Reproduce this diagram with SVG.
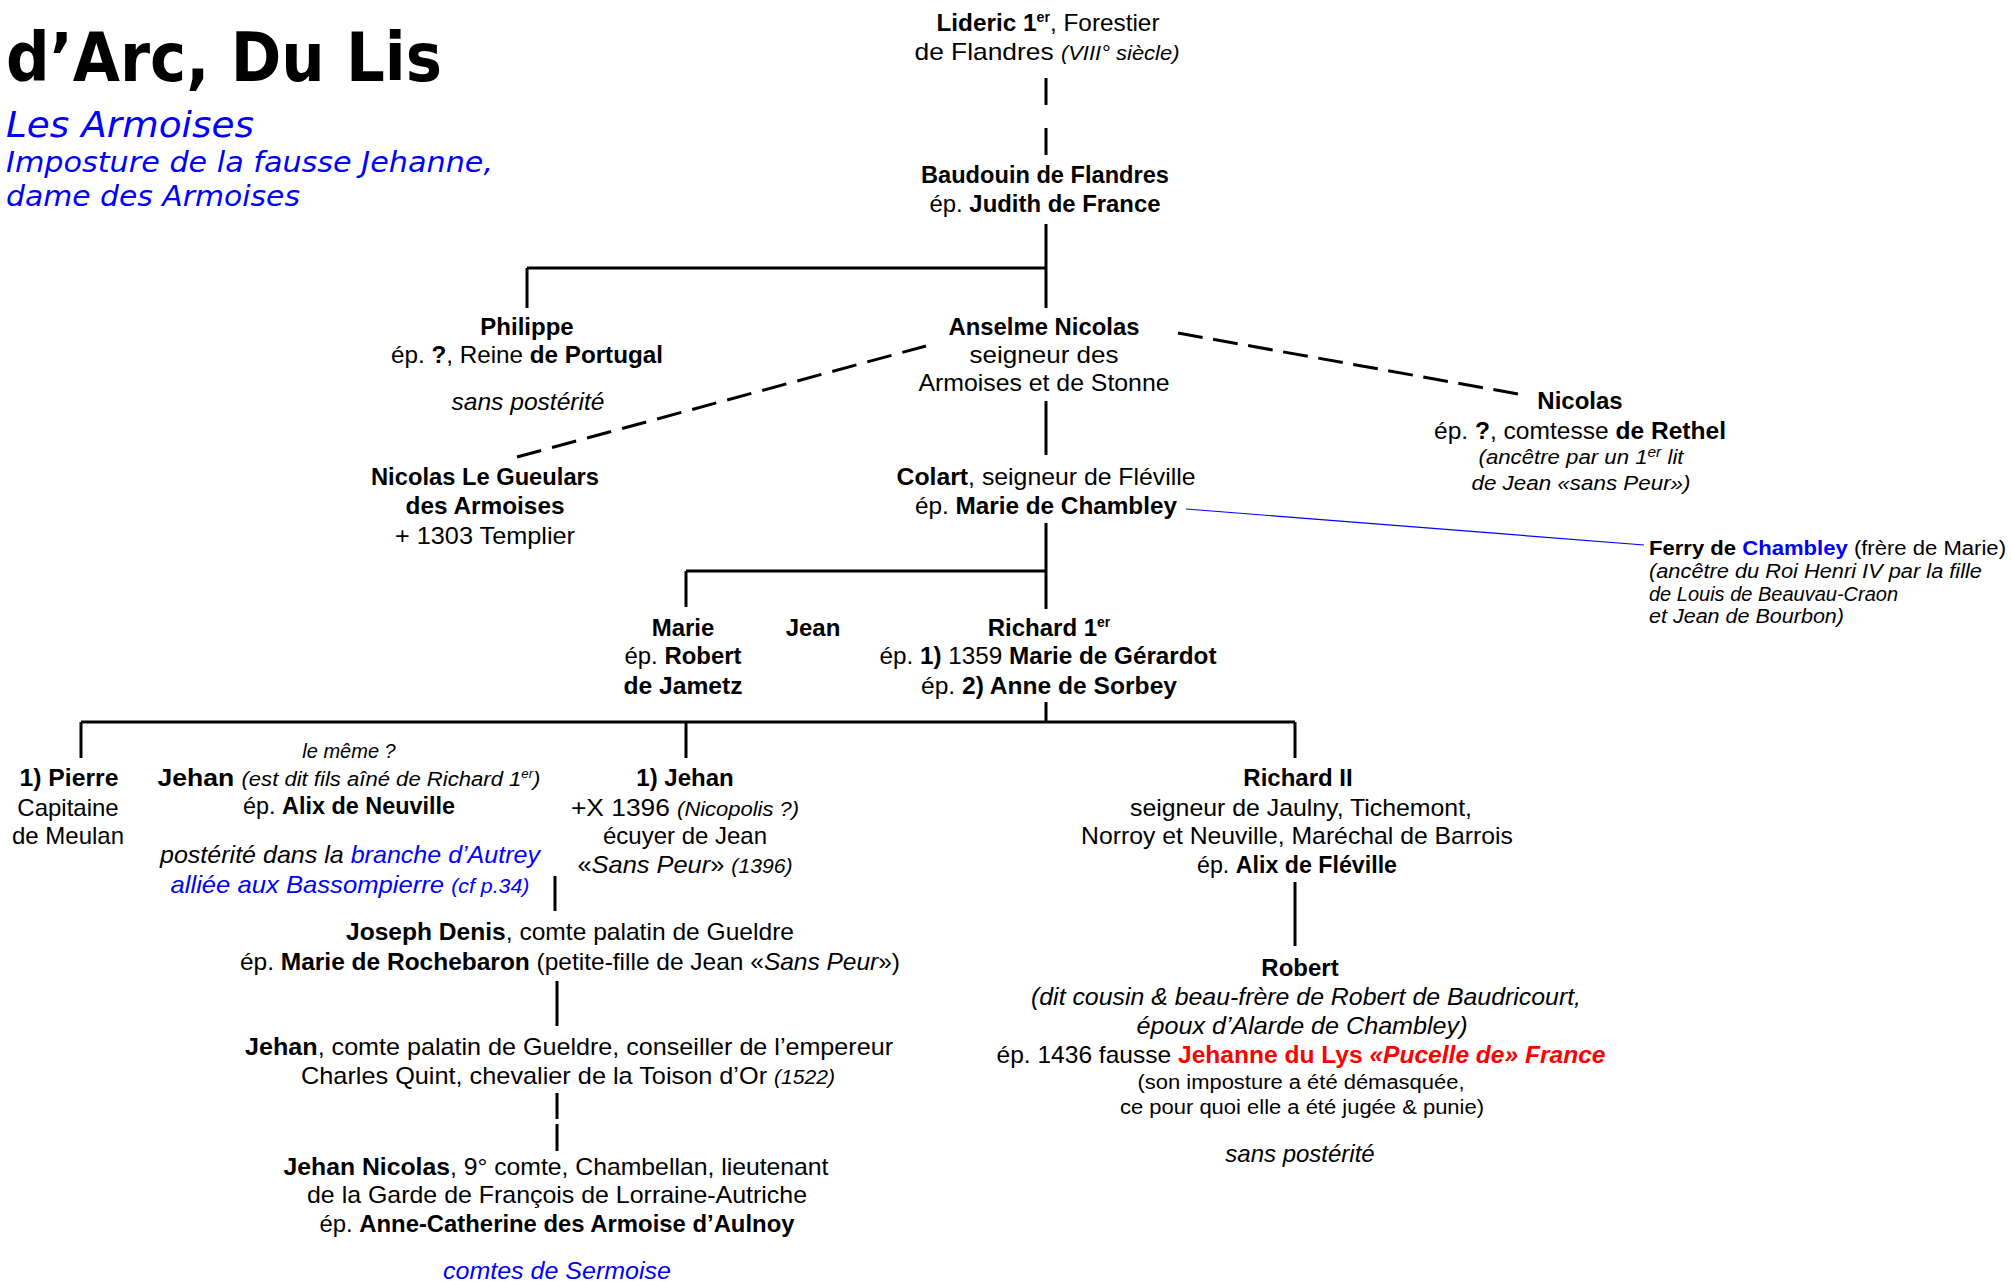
<svg xmlns="http://www.w3.org/2000/svg" width="2011" height="1283" viewBox="0 0 2011 1283">
<style>
.t{font-family:"Liberation Sans",Arial,sans-serif;font-size:24px;fill:#000}
.c{text-anchor:middle}
.b{font-weight:bold}
.i{font-style:italic}
.s{font-size:20px}
.sup{font-size:14px}
.blue{fill:#0000FF}
.red{fill:#FF0000}
.h{font-family:"DejaVu Sans",Verdana,sans-serif}
.ln{stroke:#000;stroke-width:3;fill:none}
</style>
<rect width="2011" height="1283" fill="#fff"/>
<g id="title">
<text class="h" x="6" y="81" font-size="67" font-weight="bold" textLength="436" lengthAdjust="spacingAndGlyphs">d’Arc, Du Lis</text>
<text class="h blue" x="6" y="137" font-size="36" font-style="italic" textLength="248" lengthAdjust="spacingAndGlyphs">Les Armoises</text>
<text class="h blue" x="6" y="172" font-size="29" font-style="italic" textLength="487" lengthAdjust="spacingAndGlyphs">Imposture de la fausse Jehanne,</text>
<text class="h blue" x="6" y="206" font-size="29" font-style="italic" textLength="294" lengthAdjust="spacingAndGlyphs">dame des Armoises</text>
</g>
<g id="connectors">
<path class="ln" d="M1046 78V105M1046 128V155"/>
<path class="ln" d="M1046 224V308M527 268H1046M527 268V308"/>
<path class="ln" d="M1046 401V455"/>
<path class="ln" stroke-dasharray="25 11.3" d="M517 457L926 346"/>
<path class="ln" stroke-dasharray="25 10.6" d="M1178 333L1518 394"/>
<path d="M1186 509L1644 545" stroke="#0000FF" stroke-width="1.2" fill="none"/>
<path class="ln" d="M1046 523V609M686 571H1046M686 571V607"/>
<path class="ln" d="M1046 702V722M81 722H1295M81 722V758M686 722V758M1295 722V758"/>
<path class="ln" d="M555 876V911"/>
<path class="ln" d="M1295 882V946"/>
<path class="ln" d="M557 981V1026"/>
<path class="ln" d="M557 1093V1119M557 1124V1151"/>
</g>
<g id="lideric">
<text class="t c" x="1048" y="31" textLength="223" lengthAdjust="spacingAndGlyphs"><tspan class="b">Lideric 1</tspan><tspan class="b sup" dy="-9">er</tspan><tspan dy="9">, Forestier</tspan></text>
<text class="t c" x="1047" y="60" textLength="265" lengthAdjust="spacingAndGlyphs">de Flandres <tspan class="i s">(VIII°  siècle)</tspan></text>
</g>
<g id="baudouin">
<text class="t c b" x="1045" y="183" textLength="248" lengthAdjust="spacingAndGlyphs">Baudouin de Flandres</text>
<text class="t c" x="1045" y="212" textLength="231" lengthAdjust="spacingAndGlyphs">ép. <tspan class="b">Judith de France</tspan></text>
</g>
<g id="philippe">
<text class="t c b" x="527" y="335">Philippe</text>
<text class="t c" x="527" y="363" textLength="272" lengthAdjust="spacingAndGlyphs">ép. <tspan class="b">?</tspan>, Reine <tspan class="b">de Portugal</tspan></text>
<text class="t c i" x="528" y="410" textLength="153" lengthAdjust="spacingAndGlyphs">sans postérité</text>
</g>
<g id="anselme">
<text class="t c b" x="1044" y="335" textLength="191" lengthAdjust="spacingAndGlyphs">Anselme Nicolas</text>
<text class="t c" x="1044" y="363" textLength="149" lengthAdjust="spacingAndGlyphs">seigneur  des</text>
<text class="t c" x="1044" y="391" textLength="251" lengthAdjust="spacingAndGlyphs">Armoises et de Stonne</text>
</g>
<g id="nicolas">
<text class="t c b" x="1580" y="409">Nicolas</text>
<text class="t c" x="1580" y="439" textLength="292" lengthAdjust="spacingAndGlyphs">ép. <tspan class="b">?</tspan>, comtesse <tspan class="b">de Rethel</tspan></text>
<text class="t c i s" x="1581" y="464" textLength="205" lengthAdjust="spacingAndGlyphs">(ancêtre par un 1<tspan class="sup" font-size="12" dy="-7">er</tspan><tspan dy="7"> lit</tspan></text>
<text class="t c i s" x="1581" y="490" textLength="219" lengthAdjust="spacingAndGlyphs">de Jean «sans Peur»)</text>
</g>
<g id="gueulars">
<text class="t c b" x="485" y="485" textLength="228" lengthAdjust="spacingAndGlyphs">Nicolas Le Gueulars</text>
<text class="t c b" x="485" y="514" textLength="159" lengthAdjust="spacingAndGlyphs">des Armoises</text>
<text class="t c" x="485" y="544" textLength="180" lengthAdjust="spacingAndGlyphs">+ 1303 Templier</text>
</g>
<g id="colart">
<text class="t c" x="1046" y="485" textLength="299" lengthAdjust="spacingAndGlyphs"><tspan class="b">Colart</tspan>, seigneur de Fléville</text>
<text class="t c" x="1046" y="514" textLength="262" lengthAdjust="spacingAndGlyphs">ép. <tspan class="b">Marie de Chambley</tspan></text>
</g>
<g id="ferry">
<text class="t s" x="1649" y="555" textLength="357" lengthAdjust="spacingAndGlyphs"><tspan class="b">Ferry de </tspan><tspan class="b blue">Chambley</tspan> (frère de Marie)</text>
<text class="t s i" x="1649" y="578" textLength="333" lengthAdjust="spacingAndGlyphs">(ancêtre du Roi Henri IV par la fille</text>
<text class="t s i" x="1649" y="601" textLength="249" lengthAdjust="spacingAndGlyphs">de Louis de Beauvau-Craon</text>
<text class="t s i" x="1649" y="623" textLength="195" lengthAdjust="spacingAndGlyphs">et Jean de Bourbon)</text>
</g>
<g id="marie">
<text class="t c b" x="683" y="636">Marie</text>
<text class="t c" x="683" y="664" textLength="117" lengthAdjust="spacingAndGlyphs">ép. <tspan class="b">Robert</tspan></text>
<text class="t c b" x="683" y="694" textLength="119" lengthAdjust="spacingAndGlyphs">de Jametz</text>
</g>
<g id="jean">
<text class="t c b" x="813" y="636">Jean</text>
</g>
<g id="richard1">
<text class="t c" x="1049" y="636"><tspan class="b">Richard 1</tspan><tspan class="b sup" dy="-9">er</tspan></text>
<text class="t c" x="1048" y="664" textLength="337" lengthAdjust="spacingAndGlyphs">ép. <tspan class="b">1)</tspan> 1359 <tspan class="b">Marie de Gérardot</tspan></text>
<text class="t c" x="1049" y="694" textLength="256" lengthAdjust="spacingAndGlyphs">ép. <tspan class="b">2)  Anne de Sorbey</tspan></text>
</g>
<g id="pierre">
<text class="t c b" x="69" y="786" textLength="99" lengthAdjust="spacingAndGlyphs">1) Pierre</text>
<text class="t c" x="68" y="816">Capitaine</text>
<text class="t c" x="68" y="844">de Meulan</text>
</g>
<g id="jehan-autrey">
<text class="t c i s" x="349" y="758">le même ?</text>
<text class="t c" x="349" y="786" textLength="383" lengthAdjust="spacingAndGlyphs"><tspan class="b">Jehan </tspan><tspan class="i s">(est dit fils aîné de Richard 1</tspan><tspan class="i" font-size="12" dy="-8">er</tspan><tspan class="i s" dy="8">)</tspan></text>
<text class="t c" x="349" y="814" textLength="212" lengthAdjust="spacingAndGlyphs">ép. <tspan class="b">Alix de Neuville</tspan></text>
<text class="t c i" x="350" y="863" textLength="380" lengthAdjust="spacingAndGlyphs">postérité dans la <tspan class="blue">branche d’Autrey</tspan></text>
<text class="t c i blue" x="350" y="893" textLength="359" lengthAdjust="spacingAndGlyphs">alliée aux Bassompierre <tspan class="s">(cf p.34)</tspan></text>
</g>
<g id="jehan1">
<text class="t c b" x="685" y="786">1) Jehan</text>
<text class="t c" x="685" y="816" textLength="228" lengthAdjust="spacingAndGlyphs">+X 1396 <tspan class="i s">(Nicopolis ?)</tspan></text>
<text class="t c" x="685" y="844">écuyer de Jean</text>
<text class="t c" x="685" y="873" textLength="215" lengthAdjust="spacingAndGlyphs">«<tspan class="i">Sans Peur</tspan>» <tspan class="i s">(1396)</tspan></text>
</g>
<g id="richard2">
<text class="t c b" x="1298" y="786">Richard II</text>
<text class="t c" x="1301" y="816" textLength="342" lengthAdjust="spacingAndGlyphs">seigneur de Jaulny, Tichemont,</text>
<text class="t c" x="1297" y="844" textLength="432" lengthAdjust="spacingAndGlyphs">Norroy et Neuville, Maréchal de Barrois</text>
<text class="t c" x="1297" y="873" textLength="200" lengthAdjust="spacingAndGlyphs">ép. <tspan class="b">Alix de Fléville</tspan></text>
</g>
<g id="joseph">
<text class="t c" x="570" y="940" textLength="448" lengthAdjust="spacingAndGlyphs"><tspan class="b">Joseph Denis</tspan>, comte palatin de Gueldre</text>
<text class="t c" x="570" y="970" textLength="660" lengthAdjust="spacingAndGlyphs">ép. <tspan class="b">Marie de Rochebaron</tspan> (petite-fille de Jean «<tspan class="i">Sans Peur</tspan>»)</text>
</g>
<g id="jehan-gueldre">
<text class="t c" x="569" y="1055" textLength="648" lengthAdjust="spacingAndGlyphs"><tspan class="b">Jehan</tspan>, comte palatin de Gueldre, conseiller de l’empereur</text>
<text class="t c" x="568" y="1084" textLength="534" lengthAdjust="spacingAndGlyphs">Charles Quint, chevalier de la Toison d’Or <tspan class="i s">(1522)</tspan></text>
</g>
<g id="jehan-nicolas">
<text class="t c" x="556" y="1175" textLength="545" lengthAdjust="spacingAndGlyphs"><tspan class="b">Jehan Nicolas</tspan>, 9° comte, Chambellan, lieutenant</text>
<text class="t c" x="557" y="1203" textLength="500" lengthAdjust="spacingAndGlyphs">de la Garde de François de Lorraine-Autriche</text>
<text class="t c" x="557" y="1232" textLength="475" lengthAdjust="spacingAndGlyphs">ép. <tspan class="b">Anne-Catherine des Armoise d’Aulnoy</tspan></text>
<text class="t c i blue" x="557" y="1279" textLength="228" lengthAdjust="spacingAndGlyphs">comtes  de  Sermoise</text>
</g>
<g id="robert">
<text class="t c b" x="1300" y="976">Robert</text>
<text class="t c i" x="1306" y="1005" textLength="550" lengthAdjust="spacingAndGlyphs">(dit cousin &amp; beau-frère de Robert de Baudricourt,</text>
<text class="t c i" x="1302" y="1034" textLength="331" lengthAdjust="spacingAndGlyphs">époux  d’Alarde  de  Chambley)</text>
<text class="t c" x="1301" y="1063" textLength="609" lengthAdjust="spacingAndGlyphs">ép. 1436 fausse <tspan class="b red">Jehanne du Lys </tspan><tspan class="b i red">«Pucelle de» France</tspan></text>
<text class="t c s" x="1301" y="1089" textLength="327" lengthAdjust="spacingAndGlyphs">(son imposture a été démasquée,</text>
<text class="t c s" x="1302" y="1114" textLength="364" lengthAdjust="spacingAndGlyphs">ce pour quoi elle a été jugée &amp; punie)</text>
<text class="t c i" x="1300" y="1162">sans postérité</text>
</g>
</svg>
